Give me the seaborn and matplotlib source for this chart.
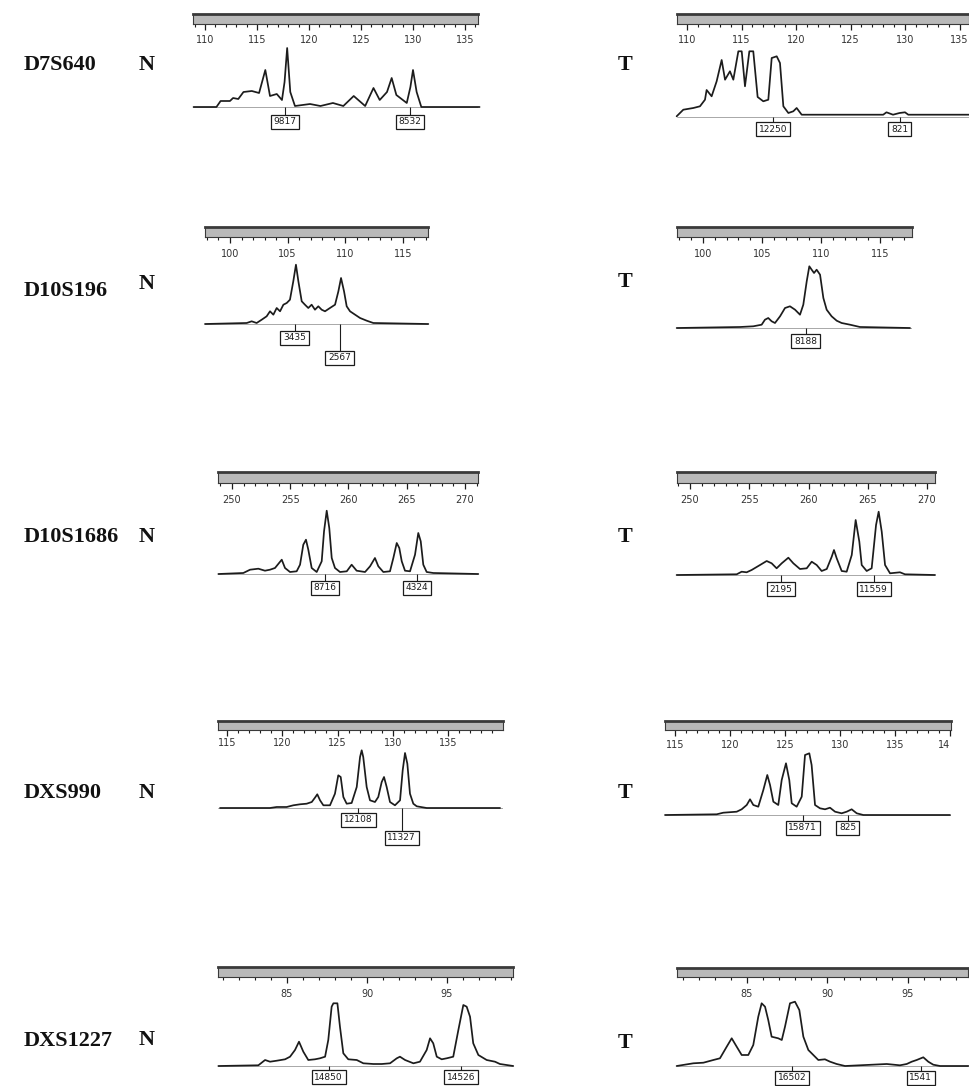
import matplotlib
matplotlib.use('Agg')
import matplotlib.pyplot as plt
from matplotlib.ticker import MultipleLocator, FixedLocator
import seaborn as sns

# ---- data (size in bp, peak height in px) ----
markers = ['D7S640', 'D10S196', 'D10S1686', 'DXS990', 'DXS1227']

d7s640_ticks = [110, 115, 120, 125, 130, 135]
d7s640_tick_labels = ['110', '115', '120', '125', '130', '135']
d7s640_n_bp = [108.9, 111.1, 111.5, 112.4, 112.7, 113.2, 113.7, 114.5, 115.2, 115.8, 116.25, 116.9,
               117.4, 117.65, 117.9, 118.2, 118.65, 120.1, 121.1, 122.3, 123.3, 124.3, 125.4, 126.2,
               126.8, 127.5, 127.95, 128.4, 129.4, 129.75, 130.0, 130.35, 130.8, 136.4]
d7s640_n_h = [0, 0, 6, 6, 9, 8, 15, 16, 14, 37, 11, 13, 7, 25, 59, 15, 1, 3, 1, 4, 1, 11, 1, 19,
              7, 15, 29, 12, 4, 20, 37, 15, 0, 0]
d7s640_n_calls = [117.7, 129.7]
d7s640_n_call_labels = ['9817', '8532']
d7s640_t_bp = [109.05, 109.66, 110.58, 111.19, 111.65, 111.8, 112.26, 112.72, 113.18, 113.49, 113.94,
               114.25, 114.71, 115.02, 115.32, 115.72, 116.08, 116.48, 117.0, 117.46, 117.77, 118.23,
               118.53, 118.84, 119.3, 119.75, 120.06, 120.52, 128.0, 128.3, 128.9, 129.5, 130.0,
               130.3, 135.96]
d7s640_t_h = [0.7, 7.3, 9, 10.7, 17.3, 27, 20.7, 35.7, 57, 37.3, 45.7, 37.3, 65.7, 65.7, 30.7, 65.7,
              65.7, 20, 15.7, 17.3, 59, 60.7, 54, 10.7, 4, 5.7, 9, 2.3, 2.3, 4.7, 2.3, 4, 4.7, 2.3, 2.3]
d7s640_t_calls = [117.9, 129.5]
d7s640_t_call_labels = ['12250', '821']

d10s196_ticks = [100, 105, 110, 115]
d10s196_tick_labels = ['100', '105', '110', '115']
d10s196_n_bp = [97.83, 101.45, 101.88, 102.31, 102.75, 103.18, 103.47, 103.76, 104.05, 104.34, 104.63,
                104.92, 105.2, 105.49, 105.72, 105.93, 106.22, 106.5, 106.79, 107.08, 107.37, 107.66,
                107.95, 108.24, 108.67, 109.11, 109.4, 109.63, 109.89, 110.12, 110.41, 110.85, 111.28,
                111.86, 112.43, 117.2]
d10s196_n_h = [0, 1, 2.7, 1, 4.3, 7.7, 12.7, 9.3, 16, 12.7, 19.3, 21, 24.3, 42.7, 59.3, 42.7, 22.7,
               19.3, 16, 19.3, 14.3, 17.7, 14.3, 12.7, 16, 19.3, 32.7, 46, 32.7, 17.7, 12.7, 9.3, 6,
               3.3, 1, 0]
d10s196_n_calls = [105.6, 109.5]
d10s196_n_call_labels = ['3435', '2567']
d10s196_t_bp = [97.77, 103.14, 104.26, 104.97, 105.25, 105.53, 105.82, 106.1, 106.53, 106.95, 107.37,
                107.8, 108.22, 108.5, 108.79, 109.01, 109.21, 109.41, 109.63, 109.92, 110.2, 110.48,
                110.9, 111.33, 111.75, 112.46, 113.3, 117.54]
d10s196_t_h = [0, 1, 1.7, 3.3, 8.3, 10, 6.7, 5, 11.7, 20, 21.7, 18.3, 13.3, 23.3, 46.7, 61.7, 58.3,
               55, 58.3, 53.3, 30, 18.3, 11.7, 7.3, 5, 3.3, 1, 0]
d10s196_t_calls = [108.7]
d10s196_t_call_labels = ['8188']

d10s1686_ticks = [250, 255, 260, 265, 270]
d10s1686_tick_labels = ['250', '255', '260', '265', '270']
d10s1686_n_bp = [248.83, 250.97, 251.55, 252.26, 252.83, 253.26, 253.69, 254.27, 254.55, 254.98,
                 255.55, 255.84, 256.12, 256.35, 256.55, 256.84, 257.27, 257.7, 257.9, 258.13, 258.35,
                 258.56, 258.84, 259.27, 259.85, 260.27, 260.7, 261.42, 261.85, 262.27, 262.56, 262.99,
                 263.56, 263.85, 264.14, 264.36, 264.57, 264.85, 265.28, 265.71, 265.99, 266.2, 266.42,
                 266.71, 267.28, 271.14]
d10s1686_n_h = [0, 1, 4.3, 5.3, 3.3, 4.3, 6, 14.3, 6, 2, 2.7, 9.3, 29.3, 34.3, 24.3, 6, 2, 12.7, 42.7,
                63.3, 46, 16, 6, 2, 2.7, 9.3, 3.3, 2, 7.7, 16, 7.7, 2, 2.7, 16, 31, 26, 12.7, 3.3, 2.7,
                19.3, 41, 32.7, 9.3, 2, 1, 0]
d10s1686_n_calls = [258.0, 265.9]
d10s1686_n_call_labels = ['8716', '4324']
d10s1686_t_bp = [248.87, 253.94, 254.36, 254.78, 255.2, 255.91, 256.47, 256.89, 257.31, 257.74, 258.3,
                 258.72, 259.28, 259.85, 260.27, 260.69, 261.11, 261.54, 261.96, 262.15, 262.38, 262.8,
                 263.22, 263.65, 263.98, 264.29, 264.49, 264.91, 265.33, 265.7, 265.92, 266.18, 266.46,
                 266.88, 267.72, 268.14, 270.68]
d10s1686_t_h = [0, 0.7, 3.3, 2.7, 5, 10, 14, 11.7, 6.7, 11.7, 17.3, 11.7, 6, 6.7, 13.3, 10, 4, 6, 18.3,
                25, 16.7, 4, 3.3, 20, 55, 33.3, 10, 4, 6.7, 50, 63.3, 43.3, 10, 1.7, 2.7, 0.7, 0]
d10s1686_t_calls = [257.7, 265.5]
d10s1686_t_call_labels = ['2195', '11559']

dxs990_ticks = [115, 120, 125, 130, 135, 140]
dxs990_tick_labels = ['115', '120', '125', '130', '135', '14']
dxs990_n_bp = [114.37, 118.89, 119.5, 120.4, 121.0, 121.61, 122.21, 122.67, 122.96, 123.17, 123.42,
               123.72, 124.32, 124.77, 125.07, 125.29, 125.53, 125.83, 126.28, 126.74, 127.04, 127.19,
               127.33, 127.64, 127.94, 128.39, 128.69, 129.0, 129.21, 129.45, 129.75, 130.2, 130.66,
               130.9, 131.11, 131.32, 131.56, 131.86, 132.17, 133.07, 139.71]
dxs990_n_h = [0, 0, 1, 1, 2.7, 3.7, 4.3, 6, 10.3, 13.7, 7.7, 2.7, 2.7, 14.3, 32.7, 31, 11, 4.3, 5, 21,
              51, 57.7, 51, 21, 7.7, 6, 11, 26, 31, 21, 6, 2.7, 7.7, 37.7, 55, 44.3, 14.3, 4.3, 1.7, 0, 0]
dxs990_n_calls = [126.9, 130.8]
dxs990_n_call_labels = ['12108', '11327']
dxs990_t_bp = [114.09, 118.79, 119.39, 120.61, 121.06, 121.52, 121.82, 122.12, 122.57, 123.03, 123.39,
               123.64, 123.94, 124.39, 124.7, 125.09, 125.39, 125.61, 126.06, 126.52, 126.82, 127.21,
               127.42, 127.73, 128.18, 128.64, 129.09, 129.55, 130.15, 130.61, 131.06, 131.52, 132.12,
               140.0]
dxs990_t_h = [0, 0.7, 2.3, 3.3, 5.7, 10, 15.7, 10, 8.3, 25, 40, 30, 13.3, 10, 35, 51.7, 35, 11.7, 8.3,
              18.3, 60, 61.7, 50, 10, 6.7, 5.7, 7.3, 3.3, 1.7, 3.3, 5.7, 1.7, 0, 0]
dxs990_t_calls = [126.6, 130.7]
dxs990_t_call_labels = ['15871', '825']

dxs1227_ticks = [85, 90, 95]
dxs1227_tick_labels = ['85', '90', '95']
dxs1227_n_bp = [80.71, 83.21, 83.63, 83.94, 84.36, 84.88, 85.19, 85.5, 85.75, 86.02, 86.33, 86.75, 87.06,
                87.38, 87.58, 87.79, 87.9, 88.15, 88.31, 88.52, 88.83, 89.36, 89.77, 90.4, 90.92, 91.44,
                91.86, 92.06, 92.38, 92.9, 93.31, 93.73, 93.94, 94.14, 94.36, 94.67, 94.98, 95.39, 95.71,
                96.02, 96.23, 96.44, 96.64, 96.96, 97.48, 98.0, 98.31, 99.14]
dxs1227_n_h = [0, 0.7, 6, 4.3, 5.3, 6.7, 9.3, 16, 24.3, 14.3, 6, 6.7, 7.7, 9.3, 26, 59.3, 62.7, 62.7,
               39.3, 12.7, 6.7, 6, 2.7, 2, 2, 2.7, 7.7, 9.3, 6, 2.7, 4.3, 16, 27.7, 22.7, 9.3, 6.7, 7.7,
               9.3, 36, 61, 59.3, 49.3, 22.7, 11, 6, 4.3, 2, 0]
dxs1227_n_calls = [87.6, 95.9]
dxs1227_n_call_labels = ['14850', '14526']
dxs1227_t_bp = [80.63, 81.67, 82.29, 82.91, 83.32, 83.74, 84.05, 84.36, 84.67, 85.08, 85.39, 85.7, 85.91,
                86.12, 86.32, 86.53, 86.94, 87.16, 87.36, 87.67, 87.98, 88.25, 88.5, 88.81, 89.12, 89.43,
                89.84, 90.16, 90.57, 91.09, 93.68, 94.5, 94.92, 95.23, 95.54, 95.95, 96.26, 96.57, 96.99,
                98.75]
dxs1227_t_h = [0, 2.7, 3.3, 6, 7.7, 19.3, 27.7, 19.3, 11, 11, 21, 49.3, 62.7, 59.3, 46, 29.3, 27.7, 26,
               39.3, 62.7, 64.3, 56, 29.3, 16, 11, 6, 6.7, 4.3, 2, 0, 2, 0.7, 2, 4.3, 6, 8.7, 4.3, 1.3,
               0, 0]
dxs1227_t_calls = [87.8, 95.8]
dxs1227_t_call_labels = ['16502', '1541']

# ---- page layout (pixels) ----
W, H = 969, 1086
# ruler px extent, bar top/bottom px, (bp, px) origin, px per bp, baseline px, label pad, box drop
layout = {
    ('D7S640', 'N'): dict(ruler=(193, 478), bar=(14, 24), origin=(110, 205), scale=10.4, base=107, pad=3.5, drops=[15, 15]),
    ('D7S640', 'T'): dict(ruler=(677, 969), bar=(14, 24), origin=(110, 687), scale=10.9, base=117, pad=3.5, drops=[12, 12]),
    ('D10S196', 'N'): dict(ruler=(205, 428), bar=(227, 237), origin=(100, 230), scale=11.53, base=324, pad=4, drops=[14, 34]),
    ('D10S196', 'T'): dict(ruler=(677, 912), bar=(227, 237), origin=(100, 703), scale=11.8, base=328, pad=4, drops=[13]),
    ('D10S1686', 'N'): dict(ruler=(218, 478), bar=(472, 483), origin=(250, 232), scale=11.65, base=574, pad=4.5, drops=[14, 14]),
    ('D10S1686', 'T'): dict(ruler=(677, 935), bar=(472, 483), origin=(250, 690), scale=11.85, base=575, pad=4.5, drops=[14, 14]),
    ('DXS990', 'N'): dict(ruler=(218, 503), bar=(721, 730), origin=(115, 227), scale=11.05, base=808, pad=1.5, drops=[12, 30]),
    ('DXS990', 'T'): dict(ruler=(665, 951), bar=(721, 730), origin=(115, 675), scale=11.0, base=815, pad=2.5, drops=[13, 13]),
    ('DXS1227', 'N'): dict(ruler=(218, 513), bar=(967, 977), origin=(85, 287), scale=16.0, base=1066, pad=4, drops=[11, 11]),
    ('DXS1227', 'T'): dict(ruler=(677, 968), bar=(968, 977), origin=(85, 747), scale=16.1, base=1066, pad=4, drops=[12, 12]),
}
label_rows = {'D7S640': (65, 65, 65), 'D10S196': (291, 284, 282), 'D10S1686': (537, 537, 537),
              'DXS990': (793, 793, 793), 'DXS1227': (1041, 1040, 1043)}

panels = {
    ('D7S640', 'N'): (d7s640_n_bp, d7s640_n_h, d7s640_ticks, d7s640_tick_labels, d7s640_n_calls, d7s640_n_call_labels),
    ('D7S640', 'T'): (d7s640_t_bp, d7s640_t_h, d7s640_ticks, d7s640_tick_labels, d7s640_t_calls, d7s640_t_call_labels),
    ('D10S196', 'N'): (d10s196_n_bp, d10s196_n_h, d10s196_ticks, d10s196_tick_labels, d10s196_n_calls, d10s196_n_call_labels),
    ('D10S196', 'T'): (d10s196_t_bp, d10s196_t_h, d10s196_ticks, d10s196_tick_labels, d10s196_t_calls, d10s196_t_call_labels),
    ('D10S1686', 'N'): (d10s1686_n_bp, d10s1686_n_h, d10s1686_ticks, d10s1686_tick_labels, d10s1686_n_calls, d10s1686_n_call_labels),
    ('D10S1686', 'T'): (d10s1686_t_bp, d10s1686_t_h, d10s1686_ticks, d10s1686_tick_labels, d10s1686_t_calls, d10s1686_t_call_labels),
    ('DXS990', 'N'): (dxs990_n_bp, dxs990_n_h, dxs990_ticks, dxs990_tick_labels, dxs990_n_calls, dxs990_n_call_labels),
    ('DXS990', 'T'): (dxs990_t_bp, dxs990_t_h, dxs990_ticks, dxs990_tick_labels, dxs990_t_calls, dxs990_t_call_labels),
    ('DXS1227', 'N'): (dxs1227_n_bp, dxs1227_n_h, dxs1227_ticks, dxs1227_tick_labels, dxs1227_n_calls, dxs1227_n_call_labels),
    ('DXS1227', 'T'): (dxs1227_t_bp, dxs1227_t_h, dxs1227_ticks, dxs1227_tick_labels, dxs1227_t_calls, dxs1227_t_call_labels),
}

sns.set_style('white')
plt.rcParams['font.family'] = ['DejaVu Sans']
ink = '#1c1c1c'

fig = plt.figure(figsize=(W / 100, H / 100), dpi=100)


def px_to_bp(x, geo):
    b0, x0 = geo['origin']
    return b0 + (x - x0) / geo['scale']


def draw_panel(key):
    bp, h, ticks, tick_labels, calls, call_labels = panels[key]
    geo = layout[key]
    rx0, rx1 = geo['ruler']
    top, bot = geo['bar']
    xlim = (px_to_bp(rx0, geo), px_to_bp(rx1, geo))

    # ruler bar with size ticks
    rax = fig.add_axes([rx0 / W, 1 - bot / H, (rx1 - rx0) / W, (bot - top) / H])
    rax.set_facecolor('#b9b9b9')
    rax.set_xlim(*xlim)
    rax.set_yticks([])
    rax.xaxis.set_major_locator(FixedLocator(ticks))
    rax.set_xticklabels(tick_labels, fontsize=7, color='#333333')
    rax.xaxis.set_minor_locator(MultipleLocator(1))
    rax.tick_params(axis='x', which='major', direction='out', length=4.5, width=0.9,
                    color=ink, pad=geo['pad'], bottom=True)
    rax.tick_params(axis='x', which='minor', direction='out', length=2.4, width=0.8,
                    color=ink, bottom=True)
    for side, sp in rax.spines.items():
        sp.set_color('#3a3a3a')
        sp.set_linewidth(2.0 if side == 'top' else 0.8)
        sp.set_visible(True)
    if tick_labels[-1] == '14':
        rax.get_xticklabels()[-1].set_ha('right')

    # trace
    base = geo['base']
    ax_top, ax_bot = base - 80, min(base + 40, H)
    tax = fig.add_axes([rx0 / W, 1 - ax_bot / H, (rx1 - rx0) / W, (ax_bot - ax_top) / H])
    tax.set_xlim(*xlim)
    tax.set_ylim(-(ax_bot - base), base - ax_top)
    tax.axis('off')
    tax.axhline(0, color='#9a9a9a', lw=0.6, zorder=1)
    sns.lineplot(x=bp, y=h, ax=tax, color=ink, linewidth=1.25, sort=False, estimator=None,
                 zorder=2, clip_on=False)

    # allele call boxes
    for pos, lab, drop in zip(calls, call_labels, geo['drops']):
        tax.vlines(pos, -drop + 6, 0, color=ink, lw=0.8)
        tax.text(pos, -drop, lab, ha='center', va='center', fontsize=6.5, color=ink,
                 bbox=dict(boxstyle='square,pad=0.3', fc='white', ec=ink, lw=0.9))


for marker in markers:
    for side in ['N', 'T']:
        draw_panel((marker, side))
    y_m, y_n, y_t = label_rows[marker]
    lab_font = dict(family='Liberation Serif', weight='bold', size=16, color='#111111')
    fig.text(24 / W, 1 - y_m / H, marker, ha='left', va='center', **lab_font)
    fig.text(147 / W, 1 - y_n / H, 'N', ha='center', va='center', **lab_font)
    fig.text(625 / W, 1 - y_t / H, 'T', ha='center', va='center', **lab_font)

fig.savefig('out.png', dpi=100)
